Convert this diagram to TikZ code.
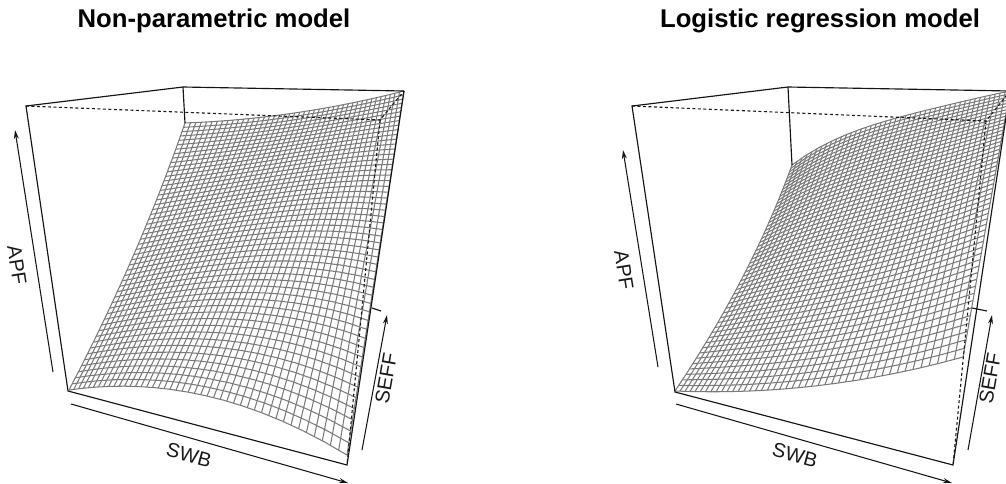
\documentclass[tikz,border=0pt]{standalone}
\usepackage{fontspec}
\setmainfont{Liberation Sans}
\usetikzlibrary{arrows.meta}
\tikzset{
  meshline/.style={draw=black!52,line width=1.05pt,line join=round},
  boxline/.style={draw=black!92,line width=1.15pt},
  hiddenline/.style={draw=black!90,line width=1.1pt,dash pattern=on 3pt off 2.5pt},
  axisline/.style={draw=black!92,line width=1.05pt,-{Stealth[length=9pt,width=5pt]}},
  maintitle/.style={font=\fontsize{25.7}{28}\selectfont\bfseries,inner sep=0pt},
  axislabel/.style={font=\fontsize{20}{22}\selectfont,inner sep=0pt,text=black!90}
}
% u along the front edge, v from front to back
\newcommand\meshpoint[2]{%
  \pgfmathsetmacro\mU{#1}\pgfmathsetmacro\mV{#2}%
  \pgfmathsetmacro\mA{(1-\mU)*(1-\mV)}%
  \pgfmathsetmacro\mB{\mU*(1-\mV)*\wB}%
  \pgfmathsetmacro\mC{(1-\mU)*\mV*\wC}%
  \pgfmathsetmacro\mD{\mU*\mV*\wD}%
  \pgfmathsetmacro\mS{\mA+\mB+\mC+\mD}%
  \pgfmathsetmacro\tF{\mU*\wB/((1-\mU)+\mU*\wB)}%
  \pgfmathsetmacro\tB{\mU*\wD/((1-\mU)*\wC+\mU*\wD)}%
  \pgfmathsetmacro\tL{\mV*\wC/((1-\mV)+\mV*\wC)}%
  \pgfmathsetmacro\mx{(\mA*\xA+\mB*\xB+\mC*\xC+\mD*\xD)/\mS+(1-\mU)*\aL*\tL*(1-\tL)}%
  \pgfmathsetmacro\my{(\mA*\yA+\mB*\yB+\mC*\yC+\mD*\yD)/\mS+(1-\mV)*\aF*\tF*(1-\tF)+\mV*\tB*(1-\tB)*(\aB+\bB*(1-\tB)*(1-\tB))}%
}
\newcommand\meshfamily[3]{% #1 = number of lines, #2 = u expression, #3 = v expression; \p is the line, \q the sample
  \foreach \p in {0,...,#1}{%
    \gdef\mypath{}%
    \foreach \q in {0,...,15}{%
      \meshpoint{#2}{#3}%
      \xdef\mypath{\mypath(\mx,\my) -- }%
    }%
    \def\q{16}\meshpoint{#2}{#3}%
    \draw[meshline] \mypath (\mx,\my);
  }%
}
\newcommand\surfacepatch{%
  \meshfamily{44}{\p/44}{\q/16}%
  \meshfamily{52}{\q/16}{\p/52}%
}
\begin{document}
\begin{tikzpicture}[x=1pt,y=-1pt]
\useasboundingbox (0,0) rectangle (1006,483);
\clip (0,0) rectangle (1006,483);

%% ---------- left panel ----------
\def\xA{69}\def\yA{390}\def\xB{347}\def\yB{455}
\def\xC{185}\def\yC{123}\def\xD{404}\def\yD{91}
\def\wB{0.75}\def\wC{1.2}\def\wD{1.32}
\def\aF{-105}\def\aB{24}\def\bB{0}\def\aL{24}
\surfacepatch

\coordinate (la) at (26,106);
\coordinate (lb) at (183,87);
\coordinate (lc) at (404,91);
\coordinate (ld) at (347,465);
\coordinate (le) at (68,391);
\coordinate (lf) at (185,123);
\coordinate (lg) at (380,120);
\coordinate (lh) at (372,308);
\coordinate (li) at (381,311);
\draw[hiddenline] (la) -- (lg) -- (lc);
\draw[hiddenline] (lg) -- (ld);
\draw[boxline,line join=miter] (lc) -- (lb) -- (la) -- (le) -- (ld) -- (lc);
\draw[boxline] (lb) -- (lf);
\draw[boxline] (lh) -- (li);
\coordinate (lx0) at (53,372); \coordinate (lx1) at (15,130);
\coordinate (ly0) at (71,404); \coordinate (ly1) at (348,483);
\coordinate (lz0) at (362,450); \coordinate (lz1) at (387,315);
\draw[axisline] (lx0) -- (lx1);
\draw[axisline] (ly0) -- (ly1);
\draw[axisline] (lz0) -- (lz1);
\node[maintitle] (ltitle) at (214,21) {Non-parametric model};
\node[axislabel,rotate=-81] (lapf) at (17,265) {APF};
\node[axislabel,rotate=-15] (lswb) at (189,455) {SWB};
\node[axislabel,rotate=80] (lseff) at (386,378) {SEFF};

%% ---------- right panel ----------
\def\xA{675}\def\yA{391}\def\xB{963}\def\yB{357}
\def\xC{792}\def\yC{165}\def\xD{1010}\def\yD{91}
\def\wB{0.75}\def\wC{1.3}\def\wD{1.3}
\def\aF{46}\def\aB{-30}\def\bB{-60}\def\aL{35}
\surfacepatch

\coordinate (ra) at (632,106);
\coordinate (rb) at (788,87);
\coordinate (rc) at (1010,91);
\coordinate (rd) at (953,465);
\coordinate (re) at (675,392);
\coordinate (rf) at (792,165);
\coordinate (rg) at (986,121);
\coordinate (rh) at (972,308);
\coordinate (ri) at (987,311);
\draw[hiddenline] (ra) -- (rg) -- (rc);
\draw[hiddenline] (rg) -- (rd);
\draw[boxline,line join=miter] (rc) -- (rb) -- (ra) -- (re) -- (rd) -- (rc);
\draw[boxline] (rb) -- (rf);
\draw[boxline] (rh) -- (ri);
\coordinate (rx0) at (658,367); \coordinate (rx1) at (623,150);
\coordinate (ry0) at (676,404); \coordinate (ry1) at (952,483);
\coordinate (rz0) at (968,450); \coordinate (rz1) at (992,315);
\draw[axisline] (rx0) -- (rx1);
\draw[axisline] (ry0) -- (ry1);
\draw[axisline] (rz0) -- (rz1);
\node[maintitle] (rtitle) at (820,21) {Logistic regression model};
\node[axislabel,rotate=-81] (rapf) at (624,270) {APF};
\node[axislabel,rotate=-15] (rswb) at (795,455) {SWB};
\node[axislabel,rotate=80] (rseff) at (990,378) {SEFF};
\end{tikzpicture}
\end{document}
